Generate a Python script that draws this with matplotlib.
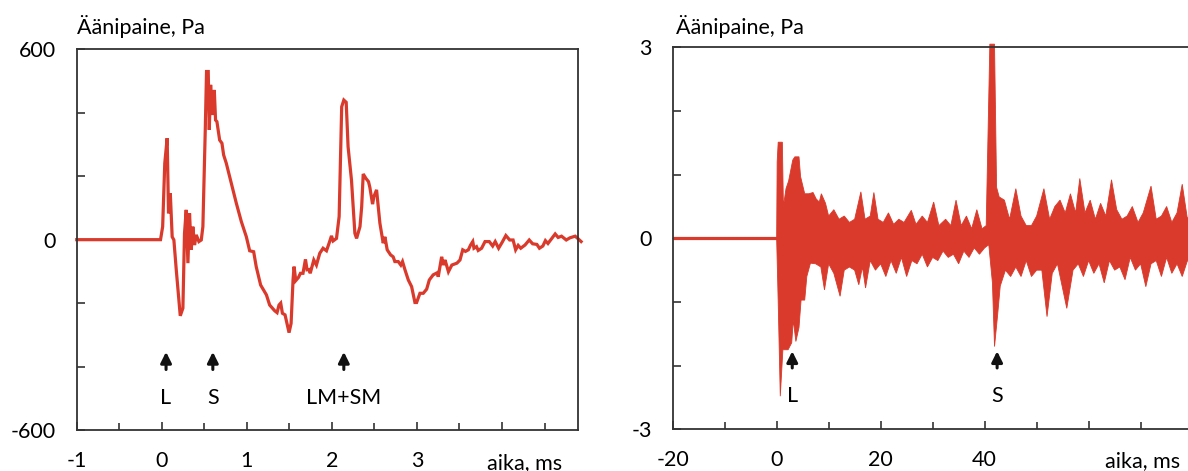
import numpy as np
import matplotlib
matplotlib.use("Agg")
import matplotlib.pyplot as plt
from matplotlib.ticker import MultipleLocator

plt.rcParams['font.family'] = ['Lato', 'DejaVu Sans']

RED = '#d93a2b'
FS = 15.5

# left panel: close range, time in ms, pressure in Pa
t_near = [-1.0, -0.015, 0.01, 0.035, 0.063, 0.079, 0.10, 0.122, 0.142, 0.17, 0.217, 0.248,
          0.267, 0.287, 0.307, 0.326, 0.346, 0.365, 0.385, 0.405, 0.436, 0.464, 0.483, 0.511,
          0.526, 0.546, 0.558, 0.574, 0.593, 0.617, 0.632, 0.648, 0.68, 0.707, 0.727, 0.758,
          0.817, 0.876, 0.935, 0.994, 1.033, 1.08, 1.11, 1.162, 1.23, 1.268, 1.327, 1.355,
          1.378, 1.398, 1.418, 1.449, 1.496, 1.52, 1.543, 1.555, 1.575, 1.607, 1.63, 1.66,
          1.689, 1.708, 1.732, 1.745, 1.787, 1.818, 1.857, 1.896, 1.936, 1.967, 1.995, 2.014,
          2.054, 2.085, 2.115, 2.14, 2.168, 2.19, 2.23, 2.27, 2.29, 2.33, 2.35, 2.368,
          2.40, 2.43, 2.446, 2.478, 2.494, 2.525, 2.564, 2.603, 2.623, 2.65, 2.69, 2.72,
          2.74, 2.78, 2.81, 2.83, 2.859, 2.898, 2.937, 2.976, 2.996, 3.035, 3.074, 3.114,
          3.145, 3.19, 3.24, 3.25, 3.29, 3.31, 3.33, 3.37, 3.41, 3.47, 3.506, 3.538,
          3.57, 3.604, 3.63, 3.656, 3.67, 3.70, 3.72, 3.76, 3.80, 3.85, 3.89, 3.92,
          3.96, 4.00, 4.045, 4.09, 4.13, 4.16, 4.19, 4.22, 4.27, 4.32, 4.36, 4.41,
          4.44, 4.48, 4.51, 4.54, 4.586, 4.625, 4.66, 4.70, 4.755, 4.80, 4.86, 4.89, 4.93]
p_near = [0, 0, 41, 241, 320, 83, 146, 9, -1, -95, -240, -216,
          20, 94, -74, 83, -32, 41, -17, 15, -6, -1, 41, 346,
          530, 530, 346, 488, 393, 472, 377, 372, 314, 304, 267, 241,
          178, 115, 57, 9, -35, -38, -85, -143, -174, -206, -224, -230,
          -206, -200, -232, -237, -293, -264, -127, -85, -129, -119, -106, -106,
          -62, -95, -94, -106, -64, -80, -43, -27, -35, -11, 12, -4,
          4, 73, 419, 440, 433, 293, 188, 20, 4, 41, 104, 207,
          193, 183, 165, 112, 136, 157, 52, -11, 9, -32, -48, -54,
          -69, -69, -80, -69, -95, -127, -148, -198, -198, -169, -169, -156,
          -127, -111, -104, -117, -54, -80, -64, -101, -80, -74, -64, -32,
          -37, -32, -17, -6, -27, -22, -34, -27, -6, -6, -20, -6,
          -27, -9, 13, -1, -1, -32, -18, -27, -17, -1, -13, -15,
          -27, -20, -3, -12, 4, 18, 7, 11, -1, 6, 11, 4, -6]

# right panel: far range, time in ms, pressure in Pa (upper / lower envelope)
t_far_up = [-20, 0, 0.1, 0.3, 1.1, 1.3, 1.8, 2.3, 3.1, 3.5, 4.3, 4.6, 5.4, 6.2, 7.0, 7.6,
            8.2, 8.6, 9.4, 10, 11, 12, 13, 14, 15, 16.2, 17, 18, 18.7, 19.5, 20.5, 21.5,
            22.5, 23.5, 24.5, 25.9, 26.8, 28, 29, 30.2, 31.2, 32.5, 33.5, 34.5, 35.5, 36.5,
            37.5, 38.5, 39.5, 40.3, 41.0, 41.9, 42.3, 42.8, 43.8, 44.8, 46, 47, 48, 49,
            50, 51.4, 52.5, 53.5, 54.5, 55.5, 56.5, 57.5, 58.3, 59.3, 60.3, 61.3, 62.3, 63.3,
            64.4, 65.4, 66.4, 67.4, 68.4, 69.5, 70.5, 72, 73, 74, 75, 76, 77, 78, 79, 80]
p_far_up = [0, 0, 1.2, 1.51, 1.51, 0.5, 0.78, 0.9, 1.23, 1.28, 1.28, 0.97, 0.7, 0.7, 0.72, 0.62,
            0.57, 0.7, 0.55, 0.35, 0.45, 0.3, 0.35, 0.25, 0.3, 0.73, 0.3, 0.35, 0.72, 0.3, 0.25, 0.4,
            0.22, 0.3, 0.25, 0.44, 0.22, 0.35, 0.25, 0.57, 0.2, 0.3, 0.2, 0.6, 0.2, 0.35,
            0.15, 0.45, 0.15, 0.2, 3.05, 3.05, 0.8, 0.65, 0.6, 0.3, 0.78, 0.35, 0.2, 0.2,
            0.35, 0.78, 0.3, 0.5, 0.6, 0.4, 0.7, 0.4, 0.94, 0.4, 0.6, 0.3, 0.55, 0.35,
            0.92, 0.45, 0.3, 0.35, 0.5, 0.25, 0.4, 0.82, 0.3, 0.35, 0.5, 0.25, 0.4, 0.85, 0.3, 0.5]
t_far_lo = [-20, 0, 0.3, 0.7, 1.2, 2.2, 2.9, 3.2, 3.7, 4.3, 4.7, 5.4, 5.8, 6.5, 7.5, 8.5,
            9.2, 10, 11, 12.2, 13, 14, 15, 15.8, 16.5, 17.1, 18, 19, 20, 21, 22, 23,
            24, 25, 26, 27, 28, 29, 30, 31, 32, 33, 34, 35, 36, 37, 38, 39, 40, 40.8,
            41.5, 41.9, 42.5, 43, 44, 45, 46, 47, 48, 49, 50, 51, 52, 53, 54, 55.8,
            57, 58, 59, 60, 61, 62, 63, 64, 65, 66, 67, 68, 69, 70, 71, 72, 73, 74,
            75, 76, 77, 78, 79, 80]
p_far_lo = [0, 0, -1.0, -2.48, -1.75, -1.75, -1.64, -1.28, -1.62, -1.4, -0.97, -0.97, -0.6, -0.39, -0.4, -0.45,
            -0.81, -0.4, -0.55, -0.91, -0.5, -0.45, -0.5, -0.73, -0.45, -0.78, -0.35, -0.5, -0.4, -0.6, -0.35, -0.55,
            -0.3, -0.6, -0.35, -0.4, -0.25, -0.45, -0.3, -0.35, -0.2, -0.3, -0.25, -0.4, -0.2, -0.3, -0.15, -0.25, -0.15, -0.1,
            -0.7, -1.7, -1.2, -0.75, -0.5, -0.6, -0.45, -0.6, -0.35, -0.6, -0.5, -0.5, -1.23, -0.55, -0.4, -1.1,
            -0.5, -0.4, -0.6, -0.35, -0.55, -0.4, -0.7, -0.35, -0.5, -0.45, -0.65, -0.3, -0.5, -0.4, -0.76, -0.4, -0.35, -0.6,
            -0.3, -0.55, -0.4, -0.6, -0.35, -0.4]

marks_near = {'L': 0.05, 'S': 0.6, 'LM+SM': 2.14}
marks_far = {'L': 3.0, 'S': 42.4}

fig = plt.figure(figsize=(11.88, 4.71), dpi=100)
ax1 = fig.add_axes([0.0646, 0.0870, 0.4217, 0.8083])
ax2 = fig.add_axes([0.5662, 0.0885, 0.4377, 0.8110])


def style(ax):
    for s in ax.spines.values():
        s.set_color('#333333')
        s.set_linewidth(1.3)
    ax.tick_params(which='both', direction='in', color='#333333', width=1.2,
                   labelsize=FS, pad=15, top=False, right=False)
    ax.tick_params(which='major', length=6)
    ax.tick_params(which='minor', length=5)


# left
ax1.plot(t_near, p_near, color=RED, lw=2.3, clip_on=False, solid_joinstyle='miter')
ax1.set_xlim(-1, 4.89)
ax1.set_ylim(-600, 600)
ax1.set_xticks([-1, 0, 1, 2, 3, 4])
ax1.set_xticklabels(['-1', '0', '1', '2', '3', ''])
ax1.xaxis.set_minor_locator(MultipleLocator(0.5))
ax1.set_yticks(np.arange(-600, 601, 200))
ax1.set_yticklabels(['-600', '', '', '0', '', '', '600'])
style(ax1)
for lab, x in marks_near.items():
    ax1.annotate('', xy=(x, -345), xytext=(x, -418),
                 arrowprops=dict(arrowstyle='-|>', color='#111111', lw=2.2, mutation_scale=16))
    ax1.text(x, -498, lab, ha='center', va='center', fontsize=FS)
ax1.text(4.27, -703, 'aika, ms', ha='center', va='center', fontsize=FS)

# right
ax2.fill(np.concatenate([t_far_up, t_far_lo[::-1]]),
         np.concatenate([p_far_up, p_far_lo[::-1]]),
         color=RED, lw=0.6, clip_on=False)
ax2.plot([-20, 0], [0, 0], color=RED, lw=2.3)
ax2.set_xlim(-20, 80)
ax2.set_ylim(-3, 3)
ax2.set_xticks([-20, 0, 20, 40, 60])
ax2.set_xticklabels(['-20', '0', '20', '40', ''])
ax2.xaxis.set_minor_locator(MultipleLocator(10))
ax2.set_yticks(np.arange(-3, 4, 1))
ax2.set_yticklabels(['-3', '', '', '0', '', '', '3'])
style(ax2)
for lab, x in marks_far.items():
    ax2.annotate('', xy=(x, -1.73), xytext=(x, -2.08),
                 arrowprops=dict(arrowstyle='-|>', color='#111111', lw=2.2, mutation_scale=16))
    ax2.text(x, -2.48, lab, ha='center', va='center', fontsize=FS)
ax2.text(70.3, -3.5, 'aika, ms', ha='center', va='center', fontsize=FS)

fig.text(77 / 1188, 1 - 26 / 471, 'Äänipaine, Pa', ha='left', va='center', fontsize=FS)
fig.text(676 / 1188, 1 - 26 / 471, 'Äänipaine, Pa', ha='left', va='center', fontsize=FS)

fig.savefig('out.png', dpi=100)
